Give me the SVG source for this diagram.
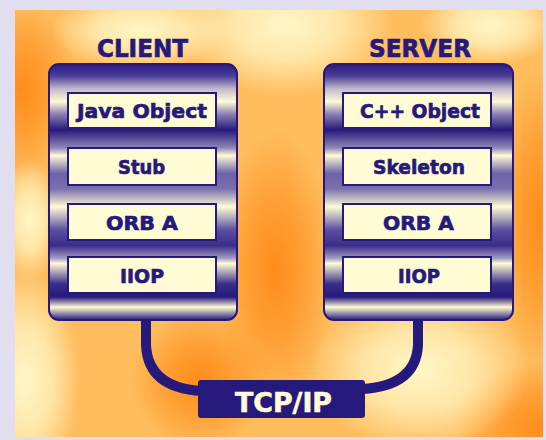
<svg xmlns="http://www.w3.org/2000/svg" width="546" height="440" viewBox="0 0 546 440">
<defs>
<style>
.lbl{font-family:"DejaVu Sans","Liberation Sans",sans-serif;font-weight:bold;fill:#26197c;stroke:#26197c;stroke-width:0.7;text-anchor:middle}
.title{font-size:25px}
.box{fill:#fffbd4;stroke:#26197c;stroke-width:2}
.item{font-size:20px}
.col{stroke:#26197c;stroke-width:2}
.cable{fill:none;stroke:#26197c;stroke-width:10}
</style>
<radialGradient id="cream" cx="0.5" cy="0.5" r="0.5">
<stop offset="0" stop-color="#fff7c6" stop-opacity="1"/>
<stop offset="0.5" stop-color="#fff7c6" stop-opacity="0.7"/>
<stop offset="1" stop-color="#fff7c6" stop-opacity="0"/>
</radialGradient>
<radialGradient id="orange" cx="0.5" cy="0.5" r="0.5">
<stop offset="0" stop-color="#ff8c1a" stop-opacity="1"/>
<stop offset="0.5" stop-color="#ff8c1a" stop-opacity="0.6"/>
<stop offset="1" stop-color="#ff8c1a" stop-opacity="0"/>
</radialGradient>
<clipPath id="clipbg"><rect x="15" y="10" width="528" height="427"/></clipPath>
<linearGradient id="colg" gradientUnits="userSpaceOnUse" x1="0" y1="63" x2="0" y2="320">
<stop offset="0" stop-color="#26197c"/>
<stop offset="0.05" stop-color="#4a3c96"/>
<stop offset="0.1" stop-color="#c0b8cc"/>
<stop offset="0.15" stop-color="#fffbd4"/>
<stop offset="0.2" stop-color="#8a7fb4"/>
<stop offset="0.26" stop-color="#26197c"/>
<stop offset="0.33" stop-color="#8f85b6"/>
<stop offset="0.36" stop-color="#fffbd4"/>
<stop offset="0.43" stop-color="#6d62a8"/>
<stop offset="0.49" stop-color="#7b70ae"/>
<stop offset="0.56" stop-color="#fffbd4"/>
<stop offset="0.65" stop-color="#5a4ea0"/>
<stop offset="0.71" stop-color="#3a2d8a"/>
<stop offset="0.76" stop-color="#a59cc4"/>
<stop offset="0.78" stop-color="#fffbd4"/>
<stop offset="0.86" stop-color="#3a2d8a"/>
<stop offset="0.91" stop-color="#26197c"/>
<stop offset="0.95" stop-color="#fffbd4"/>
<stop offset="1" stop-color="#26197c"/>
</linearGradient>
</defs>
<rect width="546" height="440" fill="#e1deef"/>
<g id="background" clip-path="url(#clipbg)">
<rect x="15" y="10" width="528" height="427" fill="#ffbd5e"/>
<ellipse cx="20" cy="90" rx="60" ry="90" fill="url(#orange)"/>
<ellipse cx="275" cy="270" rx="60" ry="140" fill="url(#orange)"/>
<ellipse cx="200" cy="380" rx="70" ry="70" fill="url(#orange)"/>
<ellipse cx="540" cy="220" rx="45" ry="150" fill="url(#orange)"/>
<ellipse cx="545" cy="430" rx="90" ry="70" fill="url(#orange)"/>
<ellipse cx="285" cy="25" rx="110" ry="70" fill="url(#cream)"/>
<ellipse cx="140" cy="30" rx="90" ry="40" fill="url(#cream)"/>
<ellipse cx="25" cy="380" rx="55" ry="110" fill="url(#cream)"/>
<ellipse cx="420" cy="370" rx="110" ry="80" fill="url(#cream)"/>
<ellipse cx="490" cy="25" rx="70" ry="40" fill="url(#cream)"/>
<ellipse cx="30" cy="220" rx="30" ry="60" fill="url(#cream)"/>
</g>
<g id="connectors">
<path class="cable" d="M146,318 L146,345 Q148,388 202,391"/>
<path class="cable" d="M418,318 L418,345 Q416,386 362,389"/>
</g>
<g id="client">
<text class="lbl title" x="142.5" y="57" textLength="91" lengthAdjust="spacingAndGlyphs">CLIENT</text>
<rect class="col" x="49" y="64" width="188" height="256" rx="10" fill="url(#colg)"/>
<g id="client-java">
<rect class="box" x="68" y="93" width="148" height="35"/>
<text class="lbl item" x="142" y="118" textLength="130" lengthAdjust="spacingAndGlyphs">Java Object</text>
</g>
<g id="client-stub">
<rect class="box" x="68" y="148" width="148" height="37"/>
<text class="lbl item" x="141.5" y="174" textLength="47" lengthAdjust="spacingAndGlyphs">Stub</text>
</g>
<g id="client-orb">
<rect class="box" x="68" y="204" width="148" height="36"/>
<text class="lbl item" x="142" y="230" textLength="72" lengthAdjust="spacingAndGlyphs">ORB A</text>
</g>
<g id="client-iiop">
<rect class="box" x="68" y="257" width="148" height="36"/>
<text class="lbl item" x="142" y="283" textLength="44" lengthAdjust="spacingAndGlyphs">IIOP</text>
</g>
</g>
<g id="server">
<text class="lbl title" x="420" y="57" textLength="102" lengthAdjust="spacingAndGlyphs">SERVER</text>
<rect class="col" x="324" y="64" width="189" height="256" rx="10" fill="url(#colg)"/>
<g id="server-cpp">
<rect class="box" x="343" y="93" width="148" height="35"/>
<text class="lbl item" x="420" y="118" textLength="120" lengthAdjust="spacingAndGlyphs">C++ Object</text>
</g>
<g id="server-skeleton">
<rect class="box" x="343" y="148" width="148" height="37"/>
<text class="lbl item" x="419" y="174" textLength="92" lengthAdjust="spacingAndGlyphs">Skeleton</text>
</g>
<g id="server-orb">
<rect class="box" x="343" y="204" width="148" height="36"/>
<text class="lbl item" x="418.5" y="230" textLength="71" lengthAdjust="spacingAndGlyphs">ORB A</text>
</g>
<g id="server-iiop">
<rect class="box" x="343" y="257" width="148" height="36"/>
<text class="lbl item" x="419" y="283" textLength="42" lengthAdjust="spacingAndGlyphs">IIOP</text>
</g>
</g>
<g id="tcpip">
<rect x="198" y="380" width="167" height="38" rx="3" fill="#26197c"/>
<text class="lbl" x="283.5" y="412" font-size="26" style="fill:#fffbd4;stroke:#fffbd4;stroke-width:0.6" textLength="97" lengthAdjust="spacingAndGlyphs">TCP/IP</text>
</g>
</svg>
